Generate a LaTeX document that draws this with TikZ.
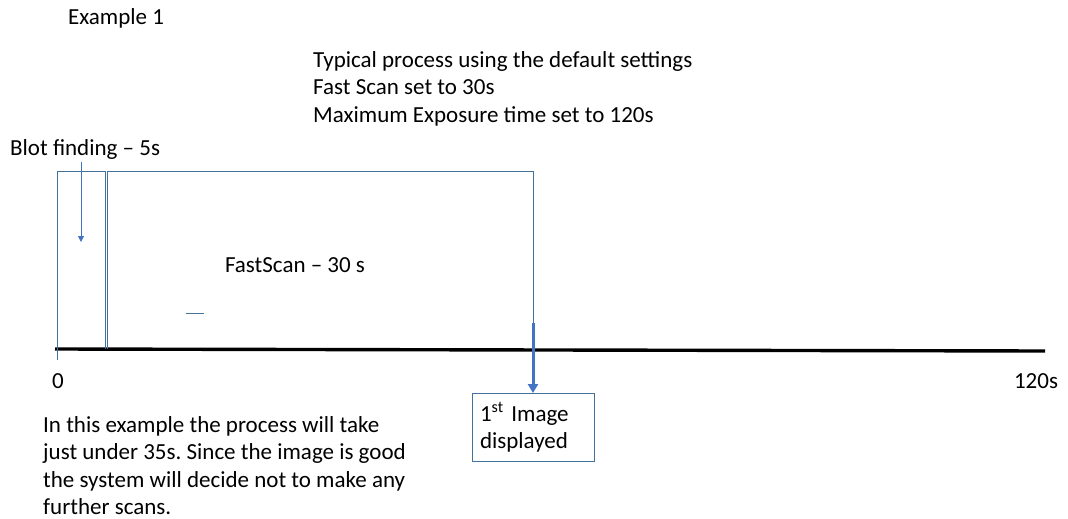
\documentclass[tikz,border=0pt]{standalone}
\usepackage{fontspec}
\setmainfont{Carlito}
\usetikzlibrary{positioning, arrows.meta, calc}
\definecolor{officeblue}{HTML}{4472C4}
\definecolor{framegray}{HTML}{41719C}
\frenchspacing

\begin{document}
\begin{tikzpicture}[
  x=1pt, y=-1pt,
  every node/.style={font=\fontsize{23}{27.5}\selectfont, inner sep=0pt},
  txt/.style   = {align=left, anchor=west},
  frame/.style = {draw=framegray, line width=0.9pt},
  axis/.style  = {draw=black, line width=3.4pt},
  pin/.style   = {-{Triangle[length=6pt, width=6pt]}, draw=officeblue, fill=officeblue, line width=0.8pt},
  hit/.style   = {-{Triangle[length=9pt, width=10pt]}, draw=officeblue, line width=3pt},
  box/.style   = {draw=framegray, line width=0.9pt, minimum width=122pt, minimum height=68pt,
                  align=left, text width=106pt, inner xsep=8pt, anchor=north},
]
  \useasboundingbox (0,0) rectangle (1068,519);

  % titles
  \node[txt] (title) at (68,18) {Example 1};
  \node[txt, anchor=north west] (setup) at (313,51)
      {Typical process using the default settings\\Fast Scan set to 30s\\Maximum Exposure time set to 120s};
  \node[txt] (blot) at (10,149) {Blot finding -- 5s};

  % time line
  \coordinate (t0)   at (55,349);
  \coordinate (tend) at (1045,351);
  \draw[axis] (t0) -- (tend);
  \node (zero) at (58,381) {0};
  \node (full) at (1036,381) {120s};

  % phases
  \draw[frame] (57,360) -- (57,171) -- (105,171) -- (105,349);
  \draw[frame] (107,349) -- (107,171) -- (533,171) -- (533,323);
  \coordinate (blottop) at (81,162);
  \coordinate (blotend) at (81,242);
  \draw[pin] (blottop) -- (blotend);
  \node (scan) at (295,265) {FastScan -- 30 s};
  \draw[frame] (186,313) -- (204,313);

  % first image
  \coordinate (shot) at (533,323);
  \node[box] (img) at (533,393) {1\textsuperscript{st} Image\\displayed};
  \draw[hit] (shot) -- (img.north);

  % note
  \node[txt, anchor=north west] (note) at (43,416)
      {In this example the process will take\\just under 35s. Since the image is good\\the system will decide not to make any\\further scans.};
\end{tikzpicture}
\end{document}
